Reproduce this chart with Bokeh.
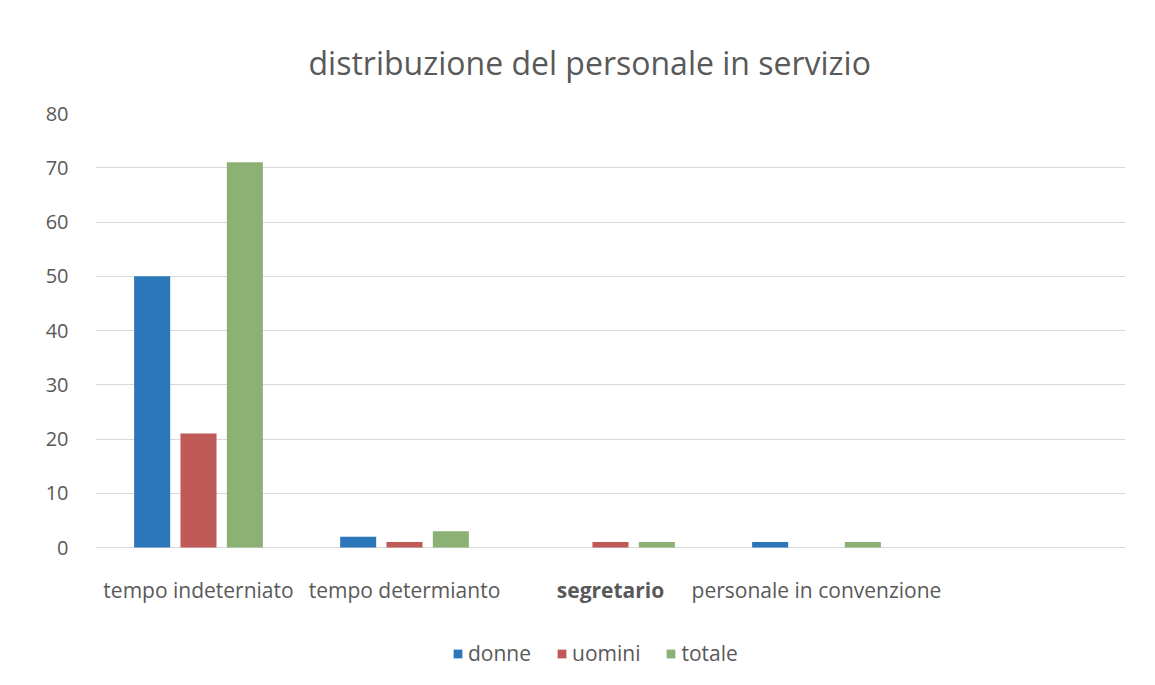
from bokeh.plotting import figure
from bokeh.models import ColumnDataSource, FactorRange, Range1d, FixedTicker, Legend, LegendItem
from bokeh.transform import dodge
from bokeh.core.properties import value
from bokeh.embed import file_html
from bokeh.resources import INLINE

categories = ["tempo indeterniato", "tempo determianto", "segretario", "personale in convenzione"]
donne = [50, 2, 0, 1]
uomini = [21, 1, 1, 0]
totale = [71, 3, 1, 1]
y_ticks = [0, 10, 20, 30, 40, 50, 60, 70, 80]

FONT = "Open Sans"
TXT = "#595959"
W, H = 1147, 677
left, right, top, bottom = 95, 22, 113, 10
frame_h = H - top - bottom
px_per_unit = 434 / 80.0
y_start = 80 - frame_h / px_per_unit

src = ColumnDataSource(dict(cat=categories, donne=donne, uomini=uomini, totale=totale))

p = figure(width=W, height=H, output_backend="svg", toolbar_location=None,
           x_range=FactorRange(*(categories + [" "]), range_padding=0),
           y_range=Range1d(y_start, 80),
           min_border_left=left, min_border_right=right,
           min_border_top=top, min_border_bottom=bottom,
           title="distribuzione del personale in servizio")
p.title.align = "left"
p.title.offset = 213
p.title.text_font = FONT
p.title.text_font_size = "32px"
p.title.text_font_style = "normal"
p.title.text_color = TXT
p.title.standoff = 59
p.outline_line_color = None
p.xaxis.visible = False
p.xgrid.grid_line_color = None
p.ygrid.grid_line_color = "#d9d9d9"
p.ygrid.grid_line_width = 1
p.yaxis.ticker = FixedTicker(ticks=y_ticks)
p.yaxis.axis_line_color = None
p.yaxis.major_tick_line_color = None
p.yaxis.minor_tick_line_color = None
p.yaxis.major_tick_out = 0
p.yaxis.major_tick_in = 0
p.yaxis.major_label_standoff = 27
p.yaxis.major_label_text_font = FONT
p.yaxis.major_label_text_font_size = "20px"
p.yaxis.major_label_text_color = TXT

colors = ["#2c77ba", "#c05a57", "#8cb175"]
bw = 0.175
r1 = p.vbar(x=dodge("cat", -0.225, range=p.x_range), top="donne", bottom=0, width=bw, source=src,
            fill_color=colors[0], line_color=None)
r2 = p.vbar(x=dodge("cat", 0.0, range=p.x_range), top="uomini", bottom=0, width=bw, source=src,
            fill_color=colors[1], line_color=None)
r3 = p.vbar(x=dodge("cat", 0.225, range=p.x_range), top="totale", bottom=0, width=bw, source=src,
            fill_color=colors[2], line_color=None)

label_y = -(589 - 547) / px_per_unit
lab_src = ColumnDataSource(dict(cat=categories, y=[label_y] * len(categories),
                                style=["normal", "normal", "bold", "normal"]))
p.text(x="cat", y="y", text="cat", source=lab_src, text_align="center", text_baseline="middle",
       text_font=value(FONT), text_font_size="21px", text_color=TXT, text_font_style="style")

legend = Legend(items=[LegendItem(label="donne", renderers=[r1]),
                       LegendItem(label="uomini", renderers=[r2]),
                       LegendItem(label="totale", renderers=[r3])],
                orientation="horizontal", location=(357, 0),
                glyph_width=11, glyph_height=11, label_standoff=5, spacing=25,
                label_text_font=FONT, label_text_font_size="21px", label_text_color=TXT,
                border_line_color=None, background_fill_alpha=0, padding=2, margin=0)
p.add_layout(legend)

open("out.html", "w").write(file_html(p, INLINE))
